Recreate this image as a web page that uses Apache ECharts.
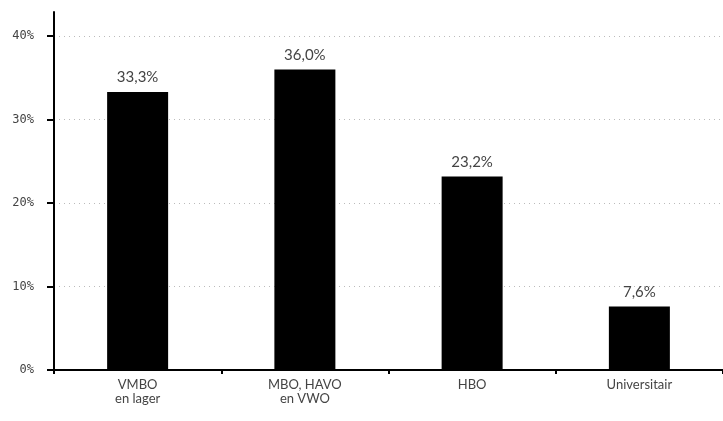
<!DOCTYPE html>
<html>
<head>
<meta charset="utf-8">
<script src="https://cdn.jsdelivr.net/npm/echarts@6/dist/echarts.min.js"></script>
<style>html,body{margin:0;padding:0;background:#fff}#c{width:723px;height:421px}</style>
</head>
<body>
<div id="c"></div>
<script>
const categories = ['VMBO\nen lager', 'MBO, HAVO\nen VWO', 'HBO', 'Universitair'];
const values = [33.3, 36.0, 23.2, 7.6];
const yTicks = [0, 10, 20, 30, 40];

const chart = echarts.init(document.getElementById('c'), null, {renderer: 'canvas'});
chart.setOption({
  animation: false,
  grid: {left: 54, right: 0, top: 12, bottom: 51, containLabel: false},
  xAxis: {
    type: 'category',
    data: categories,
    axisLine: {lineStyle: {color: '#000', width: 2}},
    axisTick: {show: true, length: 4, lineStyle: {color: '#000', width: 2}},
    axisLabel: {color: '#444', fontFamily: 'Lato', fontSize: 13, lineHeight: 14, margin: 8}
  },
  yAxis: {
    type: 'value',
    min: 0,
    max: 42.9,
    interval: 10,
    axisLine: {show: true, onZero: false, lineStyle: {color: '#000', width: 2}},
    axisTick: {show: true, inside: false, length: 7, lineStyle: {color: '#000', width: 2}},
    axisLabel: {
      color: '#444', fontFamily: 'DejaVu Sans Mono', fontSize: 12, margin: 20,
      showMaxLabel: false,
      formatter: function (v) { return yTicks.indexOf(v) >= 0 ? v + '%' : ''; }
    },
    splitLine: {show: true, showMaxLine: false, lineStyle: {color: '#bbb', width: 1, type: [1, 4]}}
  },
  series: [{
    type: 'bar',
    data: values,
    barWidth: 61,
    itemStyle: {color: '#000'},
    label: {
      show: true, position: 'top', distance: 7,
      color: '#444', fontFamily: 'Lato', fontSize: 15,
      formatter: function (p) { return p.value.toFixed(1).replace('.', ',') + '%'; }
    }
  }]
});
</script>
</body>
</html>
